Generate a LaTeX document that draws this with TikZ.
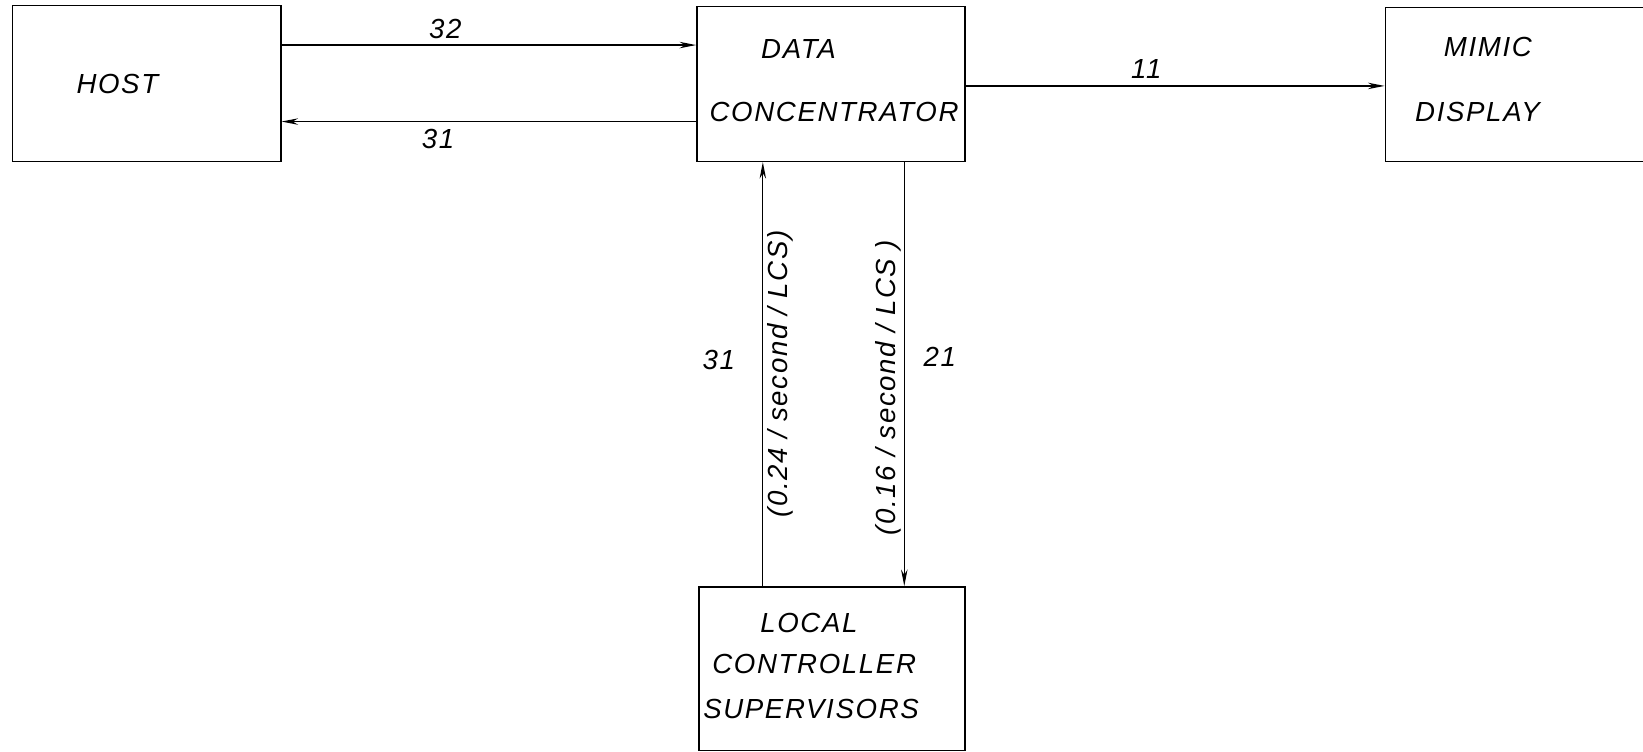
\documentclass[tikz,border=0pt]{standalone}
\usepackage{fontspec}
\setmainfont{Liberation Sans}[LetterSpace=6]
\usetikzlibrary{arrows.meta}
\begin{document}
\begin{tikzpicture}[x=0.02cm,y=-0.02cm,
  box/.style={draw, line width=0.8pt, inner sep=0pt},
  txt/.style={font=\fontsize{15}{18}\selectfont\itshape, inner sep=0pt},
  arr/.style={line width=0.7pt, -{Stealth[length=9pt,width=3.5pt]}}]
\useasboundingbox (0,0) rectangle (1568,717);
\clip (0,0) rectangle (1568,717);
\node[box, minimum width=5.12cm, minimum height=2.98cm] (host) at (140,79.5) {};
\node[box, minimum width=5.12cm, minimum height=2.96cm] (dc) at (793,80) {};
\node[box, minimum width=5.20cm, minimum height=2.94cm] (mimic) at (1452,80.5) {};
\node[box, minimum width=5.08cm, minimum height=3.12cm] (lcs) at (794,638) {};
\node[txt] (hostt) at (112,80) {HOST};
\node[txt] (dct1) at (762,47) {DATA};
\node[txt] (dct2) at (796,107) {CONCENTRATOR};
\node[txt] (mt1) at (1420,45) {MIMIC};
\node[txt] (mt2) at (1410,107) {DISPLAY};
\node[txt] (lt1) at (772,595) {LOCAL};
\node[txt] (lt2) at (777,634) {CONTROLLER};
\node[txt] (lt3) at (774,677) {SUPERVISORS};
\coordinate (y32) at (0,43);
\coordinate (y31) at (0,116);
\coordinate (y11) at (0,82);
\coordinate (xup) at (728,0);
\coordinate (xdn) at (863,0);
\draw[arr] (host.east |- y32) -- (dc.west |- y32);
\draw[arr] (dc.west |- y31) -- (host.east |- y31);
\draw[arr] (dc.east |- y11) -- (mimic.west |- y11);
\draw[arr] (lcs.north -| xup) -- (dc.south -| xup);
\draw[arr] (dc.south -| xdn) -- (lcs.north -| xdn);
\node[txt] (l32) at (425,28) {32};
\node[txt] (l31a) at (418,133) {31};
\node[txt] (l11) at (1094,66) {11};
\node[txt] (l31b) at (686,344) {31};
\node[txt] (l21) at (897,341) {21};
\node[txt, rotate=90] (r24) at (745,357) {(0.24 / second / LCS)};
\node[txt, rotate=90] (r16) at (848,370) {(0.16 / second / LCS )};
\end{tikzpicture}
\end{document}
